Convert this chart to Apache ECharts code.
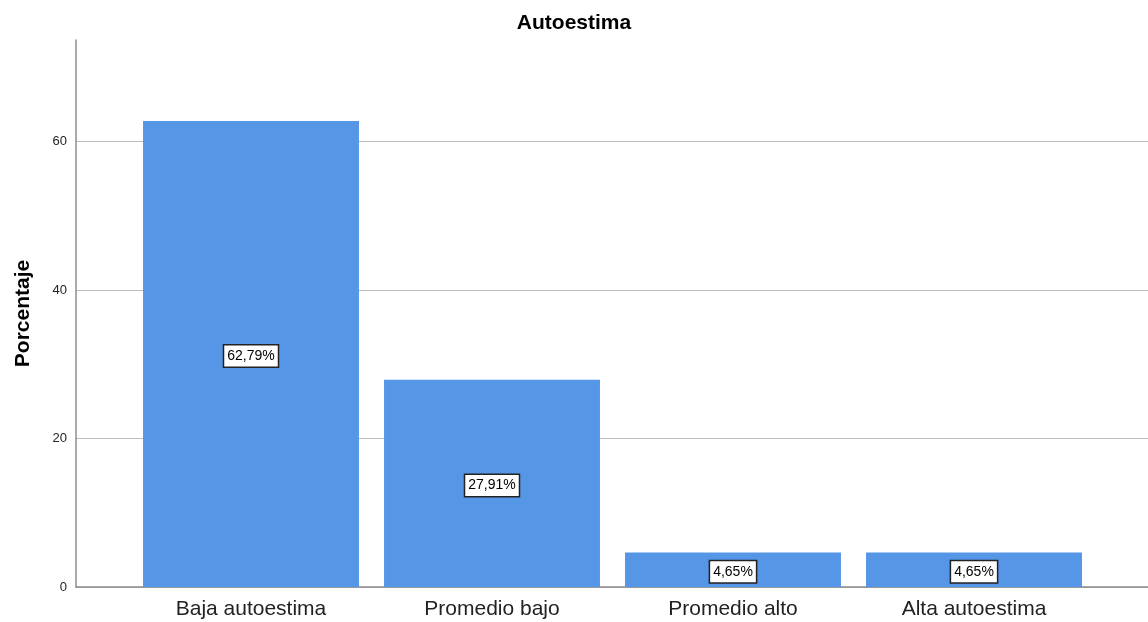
<!DOCTYPE html>
<html>
<head>
<meta charset="utf-8">
<script src="https://cdn.jsdelivr.net/npm/echarts@6/dist/echarts.min.js"></script>
<style>
  html, body { margin: 0; padding: 0; background: #fff; }
  #chart { width: 1148px; height: 622px; }
</style>
</head>
<body>
<div id="chart"></div>
<script>
// datos del gráfico
const categorias = ["Baja autoestima", "Promedio bajo", "Promedio alto", "Alta autoestima"];
const porcentajes = [62.79, 27.91, 4.65, 4.65];
const yTicks = [0, 20, 40, 60];

const yMax = 73.7;
const chart = echarts.init(document.getElementById("chart"));

const option = {
  animation: false,
  title: {
    text: "Autoestima",
    left: "center",
    top: 8,
    textStyle: { fontFamily: "Liberation Sans", fontSize: 21, fontWeight: "bold", color: "#000" },
  },
  grid: [
    // marco con ejes y líneas de cuadrícula
    { left: 76, right: 0, top: 40, bottom: 35 },
    // zona de las barras
    { left: 130.5, width: 964, top: 40, bottom: 35 },
  ],
  xAxis: [
    {
      gridIndex: 0,
      type: "value",
      min: 0,
      max: 1,
      axisLine: { show: true, lineStyle: { color: "#8c8c8c", width: 1.5 } },
      axisTick: { show: false },
      axisLabel: { show: false },
      splitLine: { show: false },
    },
    {
      gridIndex: 1,
      type: "category",
      data: categorias,
      axisLine: { show: false },
      axisTick: { show: false },
      axisLabel: { fontFamily: "Liberation Sans", fontSize: 21, color: "#222", margin: 12 },
    },
  ],
  yAxis: [
    {
      gridIndex: 0,
      type: "value",
      min: 0,
      max: yMax,
      interval: 20,
      name: "Porcentaje",
      nameLocation: "middle",
      nameGap: 42,
      nameTextStyle: { fontFamily: "Liberation Sans", fontSize: 21, fontWeight: "bold", color: "#000" },
      axisLine: { show: true, lineStyle: { color: "#8c8c8c", width: 1.5 } },
      axisTick: { show: false },
      axisLabel: {
        fontFamily: "Liberation Sans",
        fontSize: 13,
        color: "#222",
        margin: 9,
        showMaxLabel: false,
        formatter: (v) => (yTicks.includes(v) ? String(v) : ""),
      },
      splitLine: { show: true, showMaxLine: false, lineStyle: { color: "#bcbcbc", width: 1 } },
    },
    {
      gridIndex: 1,
      type: "value",
      min: 0,
      max: yMax,
      show: false,
    },
  ],
  series: [
    {
      type: "bar",
      xAxisIndex: 1,
      yAxisIndex: 1,
      data: porcentajes,
      barCategoryGap: "10.4%",
      itemStyle: { color: "#5596e6" },
      label: {
        show: true,
        position: "inside",
        offset: [0, 2],
        formatter: (p) => p.value.toFixed(2).replace(".", ",") + "%",
        fontFamily: "Liberation Sans",
        fontSize: 14,
        color: "#000",
        backgroundColor: "#fff",
        borderColor: "#222",
        borderWidth: 1.5,
        padding: [4, 3, 3, 3],
      },
    },
  ],
};

chart.setOption(option);
</script>
</body>
</html>
